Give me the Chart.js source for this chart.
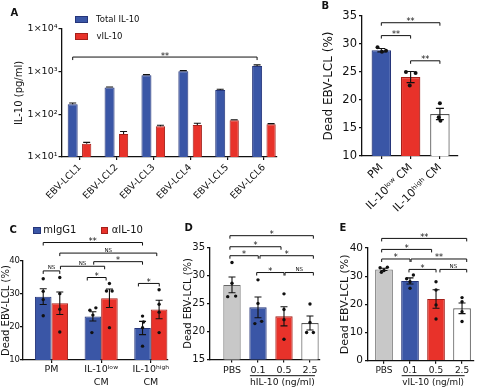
<!DOCTYPE html>
<html><head><meta charset="utf-8">
<script src="https://cdn.jsdelivr.net/npm/chart.js@4.4.1/dist/chart.umd.min.js"></script>
<style>
html,body{margin:0;padding:0;background:#fff;}
#wrap{position:relative;width:480px;height:391px;overflow:hidden;font-family:'DejaVu Sans',sans-serif;color:#111;}
canvas{position:absolute;left:0;top:0;}
.t{position:absolute;white-space:nowrap;line-height:1;}
.b{font-weight:bold;font-size:10px;}
.sw{position:absolute;box-sizing:border-box;}
</style></head><body><div id="wrap">
<canvas id="cA" width="480" height="391"></canvas>
<canvas id="cB" width="480" height="391"></canvas>
<canvas id="cC" width="480" height="391"></canvas>
<canvas id="cD" width="480" height="391"></canvas>
<canvas id="cE" width="480" height="391"></canvas>
<div class="t b" style="left:10.5px;top:8px">A</div>
<div class="t b" style="left:321.5px;top:1px">B</div>
<div class="t b" style="left:9.5px;top:225px">C</div>
<div class="t b" style="left:184.5px;top:223px">D</div>
<div class="t b" style="left:339.5px;top:223px">E</div>
<div class="sw" style="left:75px;top:15.5px;width:13.3px;height:7px;background:#3a56a6;border:1px solid #25357a"></div>
<div class="t" style="left:96px;top:14.5px;font-size:8.5px">Total IL-10</div>
<div class="sw" style="left:75px;top:32.5px;width:13.3px;height:7px;background:#e8322a;border:1px solid #a5201a"></div>
<div class="t" style="left:96.5px;top:31.5px;font-size:8.5px">vIL-10</div>
<div class="sw" style="left:33.3px;top:226.5px;width:7.3px;height:7.3px;background:#3a56a6;border:1px solid #25357a"></div>
<div class="t" style="left:43.3px;top:225px;font-size:10px">mIgG1</div>
<div class="sw" style="left:101px;top:226.5px;width:7.3px;height:7.3px;background:#e8322a;border:1px solid #a5201a"></div>
<div class="t" style="left:111.7px;top:225px;font-size:10px">αIL-10</div>
</div>
<script>
// ---------- Panel A ----------
const aCategories = ['EBV-LCL1','EBV-LCL2','EBV-LCL3','EBV-LCL4','EBV-LCL5','EBV-LCL6'];
const aTotal = [172, 423, 824, 1020, 372, 1360];
const aTotalErr = [12, 15, 30, 35, 15, 80];
const aViral = [20.5, 34.7, 52.5, 56.6, 72.6, 58.6];
const aViralErr = [1.5, 5, 3, 5, 2, 2];
const aTickValues = [10, 100, 1000, 10000];
const aTickLabels = ['1×10¹','1×10²','1×10³','1×10⁴'];
// ---------- Panel B ----------
const bCategories = ['PM','IL-10ˡᵒʷ CM','IL-10ʰⁱᵍʰ CM'];
const bMeans = [28.9, 24.1, 17.5];
const bSem = [0.3, 1.0, 1.0];
const bPoints = [[29.4, 28.6, 28.8],[25.0, 24.8, 22.6],[19.4, 16.9, 16.3]];
// ---------- Panel C ----------
const cCategories = [['PM'],['IL-10ˡᵒʷ','CM'],['IL-10ʰⁱᵍʰ','CM']];
const cIgG = [29.2, 23.2, 19.7];
const cIgGSem = [2.4, 1.4, 2.0];
const cAnti = [27.2, 28.7, 25.3];
const cAntiSem = [3.4, 2.8, 2.8];
const cIgGPoints = [[34.6, 30.8, 28.3, 23.4],[25.1, 25.8, 23.6, 18.3],[23.3, 21.5, 19.8, 14.2]];
const cAntiPoints = [[35.0, 30.1, 25.4, 18.5],[33.2, 30.9, 30.9, 19.8],[31.3, 26.9, 24.5, 18.3]];
// ---------- Panel D ----------
const dCategories = ['PBS','0.1','0.5','2.5'];
const dMeans = [28.3, 24.3, 22.7, 21.5];
const dSem = [1.4, 1.85, 1.7, 1.25];
const dPoints = [[32.3, 28.6, 26.2, 26.3],[29.2, 25.0, 21.4, 21.8],[26.7, 23.9, 22.1, 18.6],[24.9, 21.6, 19.8, 19.8]];
// ---------- Panel E ----------
const eCategories = ['PBS','0.1','0.5','2.5'];
const eMeans = [32.4, 28.3, 21.9, 18.6];
const eSem = [0.4, 1.1, 3.3, 1.9];
const ePoints = [[33.0, 32.0, 33.2, 31.4],[29.1, 30.4, 28.0, 25.7],[28.0, 25.1, 19.8, 14.8],[22.4, 20.9, 17.4, 13.9]];
// significance labels
const aSig = ['**'];
const bSig = ['**','**','**'];
const cSig = ['**','NS','NS','NS','*','*','*'];
const dSig = ['*','*','*','*','*','NS'];
const eSig = ['**','*','*','**','*','NS'];

// ---------- styles / layout ----------
const FONT = "'DejaVu Sans', sans-serif";
const INK = '#111';
const BLUE = '#3a56a6', BLUE_EDGE = '#25357a';
const RED = '#e8322a', RED_EDGE = '#a5201a';
const GRAY = '#c8c8c8', GRAY_EDGE = '#666';
const WHITE = '#ffffff', WHITE_EDGE = '#555';

function yAxis(o) {
  const ax = {
    type: o.type || 'linear', min: o.min, max: o.max, beginAtZero: false, bounds: 'data',
    afterFit: s => { s.width = o.width; },
    border: {display: true, color: INK, width: 1.3},
    grid: {display: true, drawOnChartArea: false, drawTicks: true, tickLength: 3, color: INK, lineWidth: 1.2},
    ticks: {color: INK, font: {family: FONT, size: o.tickSize}, padding: o.tickPad == null ? 2 : o.tickPad},
    title: {display: true, text: o.title, color: INK, font: {family: FONT, size: o.titleSize, lineHeight: 1.2}, padding: {top: o.titlePad || 0, bottom: 0}}
  };
  if (o.step) ax.ticks.stepSize = o.step;
  if (o.cb) ax.ticks.callback = o.cb;
  if (o.ticksFn) ax.afterBuildTicks = o.ticksFn;
  return ax;
}
function xAxis(o) {
  return {
    type: 'linear', min: o.min, max: o.max, offset: false, bounds: 'data',
    afterBuildTicks: s => { s.ticks = o.cats.map((c, i) => ({value: i})); },
    afterFit: s => { s.height = o.height; },
    border: {display: true, color: INK, width: 1.3},
    grid: {display: true, offset: false, drawOnChartArea: false, drawTicks: true, tickLength: 3, color: INK, lineWidth: 1.2},
    ticks: {autoSkip: false, minRotation: o.rot || 0, maxRotation: o.rot || 0, padding: o.pad == null ? 2 : o.pad,
      color: INK, font: {family: FONT, size: o.size, lineHeight: o.lh || 1.2},
      callback: v => o.cats[Math.round(v)]}
  };
}
function baseOpts(p) {
  return {
    responsive: false, animation: false, devicePixelRatio: 1, events: [],
    layout: {padding: {left: p.pl, right: p.pr, top: p.pt, bottom: p.pb}},
    plugins: {legend: {display: false}, tooltip: {enabled: false}},
    scales: {x: p.x, y: p.y}
  };
}
function errPlugin(sets) {
  return {id: 'errbars', afterDatasetsDraw(chart) {
    const ctx = chart.ctx, ys = chart.scales.y;
    sets.forEach(set => {
      const meta = chart.getDatasetMeta(set.ds);
      meta.data.forEach((bar, i) => {
        const m = set.means[i], e = set.errs[i], x = bar.x, cap = set.cap;
        const yt = ys.getPixelForValue(m + e);
        const yb = set.upOnly ? ys.getPixelForValue(m) : ys.getPixelForValue(m - e);
        ctx.save(); ctx.strokeStyle = INK; ctx.lineWidth = set.lw || 1.1;
        ctx.beginPath(); ctx.moveTo(x, yb); ctx.lineTo(x, yt);
        ctx.moveTo(x - cap, yt); ctx.lineTo(x + cap, yt);
        if (!set.upOnly) { ctx.moveTo(x - cap, yb); ctx.lineTo(x + cap, yb); }
        ctx.stroke(); ctx.restore();
      });
    });
  }};
}
function bracketPlugin(items, labels) {
  return {id: 'brackets', afterDraw(chart) {
    const ctx = chart.ctx, xs = chart.scales.x, ys = chart.scales.y;
    items.forEach((b, k) => {
      const x1 = xs.getPixelForValue(b.from), x2 = xs.getPixelForValue(b.to), yy = ys.getPixelForValue(b.y);
      ctx.save(); ctx.strokeStyle = INK; ctx.lineWidth = 1;
      ctx.beginPath(); ctx.moveTo(x1, yy + 3); ctx.lineTo(x1, yy); ctx.lineTo(x2, yy); ctx.lineTo(x2, yy + 3); ctx.stroke();
      const txt = labels[k];
      ctx.fillStyle = INK; ctx.textAlign = 'center'; ctx.textBaseline = 'alphabetic';
      if (txt === 'NS') { ctx.font = '5.5px ' + FONT; ctx.fillText(txt, (x1 + x2) / 2, yy - 1.5); }
      else { ctx.font = '8px ' + FONT; ctx.fillText(txt, (x1 + x2) / 2, yy + 1.5); }
      ctx.restore();
    });
  }};
}
function groupLabelPlugin(o) {
  return {id: 'grouplabel', afterDraw(chart) {
    const ctx = chart.ctx, xs = chart.scales.x;
    const x1 = xs.getPixelForValue(o.from), x2 = xs.getPixelForValue(o.to);
    const ly = xs.top + o.lineDy, ty = xs.top + o.textDy;
    ctx.save(); ctx.strokeStyle = INK; ctx.lineWidth = 1;
    ctx.beginPath(); ctx.moveTo(x1, ly); ctx.lineTo(x2, ly); ctx.stroke();
    ctx.fillStyle = INK; ctx.font = o.size + 'px ' + FONT; ctx.textAlign = 'center'; ctx.textBaseline = 'middle';
    ctx.fillText(o.text, (x1 + x2) / 2, ty);
    ctx.restore();
  }};
}
function pointSet(points, jitter, shift, radius) {
  const data = [];
  points.forEach((arr, i) => arr.forEach((v, j) => data.push({x: i + shift + jitter[i][j], y: v})));
  return {type: 'scatter', data, pointRadius: radius, pointBackgroundColor: INK, pointBorderWidth: 0, order: 0};
}

// ---------- Chart A ----------
new Chart(document.getElementById('cA'), {
  type: 'bar',
  data: {datasets: [
    {label: 'Total IL-10', data: aTotal.map((v, i) => ({x: i, y: v})), backgroundColor: BLUE, borderColor: BLUE_EDGE, borderWidth: 1, categoryPercentage: 0.759, barPercentage: 0.714, order: 1},
    {label: 'vIL-10', data: aViral.map((v, i) => ({x: i, y: v})), backgroundColor: RED, borderColor: RED_EDGE, borderWidth: 1, categoryPercentage: 0.759, barPercentage: 0.66, order: 1}
  ]},
  options: baseOpts({pl: 13, pr: 203, pt: 29, pb: 184,
    x: xAxis({cats: aCategories, min: -0.493, max: 5.35, height: 50, rot: 45, size: 9.5}),
    y: yAxis({type: 'logarithmic', min: 10, max: 10000, width: 48.5, tickSize: 9.5, tickPad: 1, title: 'IL-10 (pg/ml)', titleSize: 10,
      ticksFn: s => { s.ticks = aTickValues.map(v => ({value: v})); },
      cb: v => aTickLabels[aTickValues.indexOf(v)]})
  }),
  plugins: [
    errPlugin([{ds: 0, means: aTotal, errs: aTotalErr, upOnly: true, cap: 3.5}, {ds: 1, means: aViral, errs: aViralErr, upOnly: true, cap: 3.5}]),
    bracketPlugin([{from: -0.19, to: 4.81, y: 2200}], aSig)
  ]
});

// ---------- Chart B ----------
new Chart(document.getElementById('cB'), {
  type: 'bar',
  data: {datasets: [
    {data: bMeans.map((v, i) => ({x: i, y: v})), backgroundColor: [BLUE, RED, WHITE], borderColor: [BLUE_EDGE, RED_EDGE, WHITE_EDGE], borderWidth: 1.2, categoryPercentage: 1, barPercentage: 0.665, order: 1},
    pointSet(bPoints, [[-0.13, 0.02, 0.16], [-0.16, 0.17, -0.03], [0, -0.04, 0.02]], 0, 2)
  ]},
  options: baseOpts({pl: 321.8, pr: 22, pt: 16, pb: 175,
    x: xAxis({cats: bCategories, min: -0.66, max: 2.618, height: 60, rot: 45, size: 11}),
    y: yAxis({min: 10, max: 35, step: 5, width: 40.2, tickSize: 11.5, title: 'Dead EBV-LCL (%)', titleSize: 12})
  }),
  plugins: [
    errPlugin([{ds: 0, means: bMeans, errs: bSem, cap: 4}]),
    bracketPlugin([{from: 0, to: 1, y: 31.5}, {from: 0, to: 2, y: 33.8}, {from: 1, to: 2, y: 27.0}], bSig)
  ]
});

// ---------- Chart C ----------
const cHalf = 0.667 / 4;
new Chart(document.getElementById('cC'), {
  type: 'bar',
  data: {datasets: [
    {label: 'mIgG1', data: cIgG.map((v, i) => ({x: i, y: v})), backgroundColor: BLUE, borderColor: BLUE_EDGE, borderWidth: 1, categoryPercentage: 0.667, barPercentage: 1, order: 1},
    {label: 'αIL-10', data: cAnti.map((v, i) => ({x: i, y: v})), backgroundColor: RED, borderColor: RED_EDGE, borderWidth: 1, categoryPercentage: 0.667, barPercentage: 1, order: 1},
    pointSet(cIgGPoints, [[0, 0, 0, 0], [-0.06, 0.06, 0, -0.02], [0, 0.02, 0, 0]], -cHalf, 1.7),
    pointSet(cAntiPoints, [[0, 0, 0, 0], [0, -0.06, 0.054, 0], [0, 0, 0, 0]], cHalf, 1.7)
  ]},
  options: baseOpts({pl: 0, pr: 312, pt: 261, pb: 1,
    x: xAxis({cats: cCategories, min: -0.574, max: 2.346, height: 30, size: 9.5, pad: 0, lh: 1.35}),
    y: yAxis({min: 10, max: 40, step: 10, width: 23, tickSize: 8.5, tickPad: 0, title: 'Dead EBV-LCL (%)', titleSize: 10})
  }),
  plugins: [
    errPlugin([{ds: 0, means: cIgG, errs: cIgGSem, cap: 3.5}, {ds: 1, means: cAnti, errs: cAntiSem, cap: 3.5}]),
    bracketPlugin([
      {from: -0.167, to: 1.833, y: 45.6},
      {from: 0.167, to: 2.12, y: 42.4},
      {from: -0.167, to: 0.167, y: 37.0},
      {from: 0.18, to: 1.07, y: 38.4},
      {from: 0.85, to: 1.833, y: 39.8},
      {from: 0.72, to: 1.1, y: 35.0},
      {from: 1.75, to: 2.17, y: 33.2}
    ], cSig)
  ]
});

// ---------- Chart D ----------
new Chart(document.getElementById('cD'), {
  type: 'bar',
  data: {datasets: [
    {data: dMeans.map((v, i) => ({x: i, y: v})), backgroundColor: [GRAY, BLUE, RED, WHITE], borderColor: [GRAY_EDGE, BLUE_EDGE, RED_EDGE, WHITE_EDGE], borderWidth: 1.1, categoryPercentage: 1, barPercentage: 0.667, order: 1},
    pointSet(dPoints, [[0, 0, -0.165, 0.14], [0, 0, -0.12, 0.14], [0, 0, 0, 0], [0, 0, -0.13, 0.13]], 0, 1.7)
  ]},
  options: baseOpts({pl: 182.5, pr: 160, pt: 247.3, pb: 11.5,
    x: xAxis({cats: dCategories, min: -0.846, max: 3.385, height: 20, size: 9.5}),
    y: yAxis({min: 15, max: 35, step: 5, width: 27.5, tickSize: 10, title: 'Dead EBV-LCL (%)', titleSize: 10})
  }),
  plugins: [
    errPlugin([{ds: 0, means: dMeans, errs: dSem, cap: 3.5}]),
    bracketPlugin([
      {from: -0.08, to: 3.13, y: 37.07},
      {from: -0.08, to: 1.885, y: 35.1},
      {from: -0.08, to: 1.01, y: 33.5},
      {from: 1.077, to: 3.13, y: 33.5},
      {from: 0.95, to: 2.0, y: 30.5},
      {from: 2.04, to: 3.13, y: 30.5}
    ], dSig),
    groupLabelPlugin({from: 0.69, to: 3.19, lineDy: 16.2, textDy: 23.5, size: 9.2, text: 'hIL-10 (ng/ml)'})
  ]
});

// ---------- Chart E ----------
new Chart(document.getElementById('cE'), {
  type: 'bar',
  data: {datasets: [
    {data: eMeans.map((v, i) => ({x: i, y: v})), backgroundColor: [GRAY, BLUE, RED, WHITE], borderColor: [GRAY_EDGE, BLUE_EDGE, RED_EDGE, WHITE_EDGE], borderWidth: 1.1, categoryPercentage: 1, barPercentage: 0.68, order: 1},
    pointSet(ePoints, [[-0.15, 0, 0.13, -0.1], [-0.13, 0.13, 0, 0], [0, 0, 0, 0], [0, 0, 0, 0]], 0, 1.7)
  ]},
  options: baseOpts({pl: 338.1, pr: 6, pt: 248, pb: 10.3,
    x: xAxis({cats: eCategories, min: -0.615, max: 3.46, height: 20, size: 9}),
    y: yAxis({min: 0, max: 40, step: 10, width: 29.9, tickSize: 10.5, title: 'Dead EBV-LCL (%)', titleSize: 11})
  }),
  plugins: [
    errPlugin([{ds: 0, means: eMeans, errs: eSem, cap: 3.5}]),
    bracketPlugin([
      {from: -0.09, to: 3.18, y: 43.4},
      {from: -0.09, to: 1.83, y: 39.5},
      {from: -0.09, to: 1.0, y: 36.1},
      {from: 1.04, to: 3.18, y: 36.1},
      {from: 0.96, to: 2.0, y: 32.4},
      {from: 2.15, to: 3.18, y: 32.4}
    ], eSig),
    groupLabelPlugin({from: 0.68, to: 3.1, lineDy: 15, textDy: 22.5, size: 8.8, text: 'vIL-10 (ng/ml)'})
  ]
});
</script>
</body></html>
